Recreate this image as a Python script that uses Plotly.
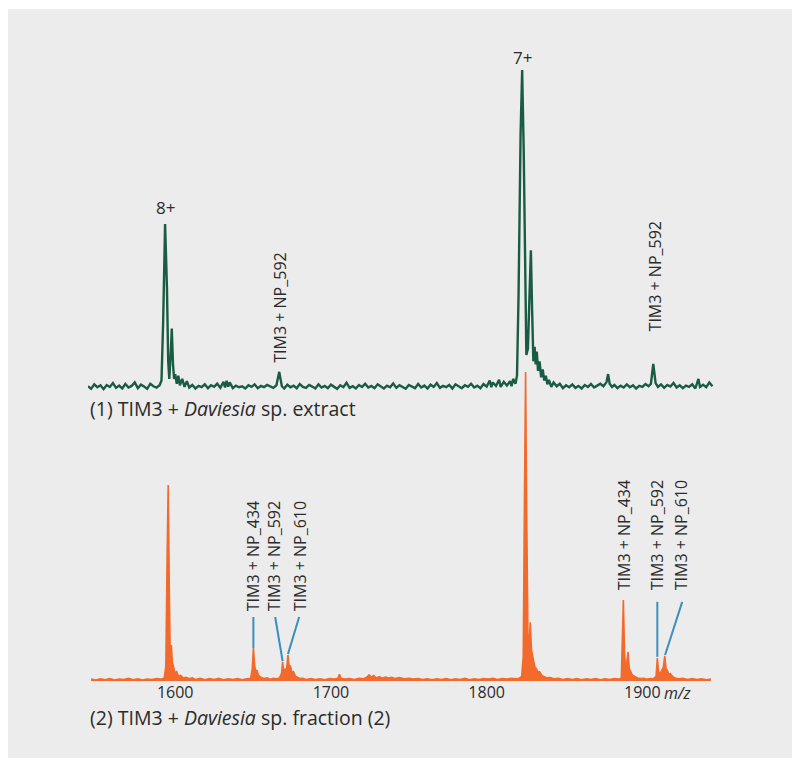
import plotly.graph_objects as go

# spectrum (1): TIM3 + Daviesia sp. extract  (relative intensity, 7+ peak = 100)
extract_mz = [
    1544, 1546, 1548, 1550, 1552, 1554, 1556, 1558, 1560, 1562, 1564, 1566,
    1568, 1570, 1572, 1574, 1576, 1578, 1580, 1582, 1584, 1586, 1588, 1590,
    1591.2, 1592.3, 1593.5, 1594.7, 1595.5, 1596.2, 1597.2, 1597.8, 1598.6,
    1599.3, 1600, 1601, 1602, 1603, 1604.5, 1606, 1607.5, 1609, 1611, 1613,
    1615, 1617, 1619, 1621, 1623, 1625, 1627, 1629, 1631, 1632, 1633, 1634,
    1635, 1637, 1639, 1641, 1643, 1645, 1647, 1649, 1651, 1653, 1655, 1657,
    1659, 1661, 1663, 1665, 1666.8, 1668.5, 1670, 1672, 1674, 1676, 1678,
    1680, 1682, 1684, 1686, 1688, 1690, 1692, 1694, 1696, 1698, 1700, 1702,
    1704, 1706, 1708, 1710, 1712, 1714, 1716, 1718, 1720, 1722, 1724, 1726,
    1728, 1730, 1732, 1734, 1736, 1738, 1740, 1742, 1744, 1746, 1748, 1750,
    1752, 1754, 1756, 1758, 1760, 1762, 1764, 1766, 1768, 1770, 1772, 1774,
    1776, 1778, 1780, 1782, 1784, 1786, 1788, 1790, 1792, 1794, 1796, 1798,
    1800, 1802, 1803, 1804, 1806, 1808, 1809, 1811, 1813, 1815, 1816, 1817,
    1818.5, 1819.5, 1820.5, 1821.8, 1822.8, 1823.8, 1824.8, 1825.5, 1826.5,
    1827.5, 1828.4, 1829.2, 1830, 1830.8, 1831.5, 1832.2, 1833, 1834, 1835,
    1836, 1837, 1838, 1839, 1840, 1841.5, 1843, 1845, 1847, 1849, 1851, 1853,
    1855, 1857, 1859, 1861, 1863, 1865, 1867, 1869, 1871, 1873, 1875, 1877,
    1878, 1879, 1880.5, 1882, 1884, 1886, 1888, 1890, 1892, 1894, 1896, 1898,
    1900, 1902, 1904, 1905.5, 1907, 1908.5, 1910, 1912, 1914, 1916, 1918,
    1920, 1922, 1924, 1926, 1928, 1930, 1932, 1934, 1936, 1937, 1939, 1941,
    1943, 1945,
]
extract_int = [
    1.2, 0.4, 1.8, 0.9, 1.5, 0.3, 1.6, 1.0, 2.2, 0.7, 1.4, 0.5,
    1.9, 0.8, 1.3, 2.4, 0.6, 1.7, 1.1, 0.4, 2.0, 1.2, 0.8, 1.5,
    3.0, 22, 51.9, 32, 9, 3.5, 12, 19.2, 8,
    3.5, 5, 2.0, 4.5, 1.5, 3.5, 1.0, 2.8, 0.8, 1.6, 0.5,
    1.3, 0.9, 1.8, 0.6, 1.5, 1.0, 2.0, 0.7, 2.6, 0.8, 2.9, 1.1,
    2.4, 0.6, 1.4, 0.9, 1.2, 0.5, 1.5, 1.0, 1.8, 0.6, 1.3, 0.9,
    1.6, 1.1, 0.7, 1.5, 5.7, 1.2, 0.5, 1.7, 0.9, 1.4, 0.6,
    1.9, 1.0, 0.7, 1.6, 1.1, 0.5, 1.8, 0.8, 1.3, 0.6, 1.7, 1.0,
    0.4, 1.5, 0.9, 2.3, 0.7, 1.2, 0.5, 1.6, 1.0, 2.0, 0.8, 1.3,
    0.6, 1.8, 1.1, 0.5, 1.4, 0.9, 2.1, 0.7, 1.5, 1.0, 0.4, 1.6,
    1.2, 0.6, 1.9, 0.8, 1.4, 0.5, 1.7, 1.0, 2.2, 0.7, 1.3, 0.9,
    1.6, 0.5, 1.8, 1.1, 0.6, 1.5, 1.0, 2.0, 0.8, 1.4, 0.6, 1.9,
    1.1, 3.0, 0.9, 2.4, 1.3, 3.2, 1.0, 2.6, 1.4, 2.8, 1.2, 3.5,
    2.0, 4.5, 30, 80, 100, 75, 35, 11, 13,
    30, 43.7, 25, 9, 13.5, 8, 12, 6, 9, 4,
    6.5, 3, 4.5, 1.8, 3.2, 1.0, 2.4, 1.2, 2.0, 0.6, 1.5, 0.9,
    1.8, 0.7, 1.3, 0.5, 1.6, 1.0, 1.9, 0.8, 1.4, 2.0, 1.2, 2.5,
    5.0, 2.0, 1.0, 1.6, 0.6, 1.4, 0.8, 1.8, 0.9, 1.5, 0.5, 1.3,
    1.0, 1.9, 1.2, 2.0, 8.2, 2.2, 1.0, 1.8, 0.7, 1.6, 1.1,
    2.2, 0.8, 1.5, 0.6, 1.4, 1.0, 1.8, 0.5, 3.5, 1.0, 1.7, 0.9,
    2.4, 1.2,
]

# spectrum (2): TIM3 + Daviesia sp. fraction (2)  (relative intensity, 7+ peak = 100)
fraction_mz = [
    1546, 1549, 1552, 1555, 1558, 1561, 1564, 1567, 1570, 1573, 1576, 1579,
    1582, 1585, 1588, 1591, 1593, 1594, 1594.8, 1595.5, 1596.2, 1596.8,
    1597.5, 1598.2, 1599, 1600, 1601, 1602, 1603.5, 1605, 1607, 1609, 1611,
    1613, 1616, 1619, 1622, 1625, 1628, 1631, 1634, 1637, 1640, 1643, 1646,
    1648.5, 1649.5, 1650.2, 1651, 1651.8, 1652.5, 1653.5, 1655, 1657, 1659,
    1661, 1663, 1665, 1667, 1668.3, 1669, 1669.8, 1670.6, 1671.4, 1672.4,
    1673.2, 1674, 1675, 1676, 1677.2, 1678.5, 1680, 1682, 1684, 1687, 1690,
    1693, 1696, 1699, 1702, 1704.5, 1705.5, 1706.5, 1709, 1712, 1715, 1718,
    1721, 1723, 1724.5, 1726, 1727.5, 1729, 1731, 1733, 1735, 1737, 1739,
    1741, 1744, 1747, 1750, 1753, 1756, 1759, 1762, 1765, 1768, 1771, 1774,
    1777, 1780, 1783, 1786, 1789, 1792, 1795, 1798, 1801, 1804, 1807, 1810,
    1813, 1816, 1819, 1821, 1822.5, 1823.5, 1824.3, 1825.0, 1825.7, 1826.5,
    1827.3, 1828, 1828.8, 1829.5, 1830.3, 1831, 1832, 1833, 1834, 1835.5,
    1837, 1839, 1841, 1843, 1846, 1849, 1852, 1855, 1858, 1861, 1864, 1867,
    1870, 1873, 1876, 1879, 1882, 1885, 1886.5, 1887.2, 1887.8, 1888.5,
    1889.2, 1890, 1890.8, 1891.6, 1892.5, 1893.5, 1895, 1897, 1899, 1901,
    1903, 1905, 1907, 1908.8, 1909.6, 1910.4, 1911.5, 1912.5, 1913.5, 1914.4,
    1915.2, 1916, 1917, 1918, 1919.5, 1921, 1923, 1926, 1929, 1932, 1935,
    1938, 1941, 1944,
]
fraction_int = [
    0.6, 0.3, 0.7, 0.4, 0.8, 0.3, 0.6, 0.5, 0.9, 0.4, 0.7, 0.3,
    0.6, 0.5, 0.8, 0.6, 1.0, 5, 40, 63.4, 30, 8,
    11.6, 6, 4.5, 2.5, 3.0, 1.6, 1.8, 1.0, 1.2, 0.7, 1.0,
    0.5, 0.9, 0.4, 0.8, 0.5, 0.9, 0.4, 0.7, 0.5, 0.8, 0.4, 0.7,
    0.9, 4, 10.7, 5, 3, 3.5, 1.8, 1.2, 0.8, 1.0,
    0.6, 0.9, 0.7, 1.0, 2.5, 6.1, 2.8, 4.0, 3.2, 8.4,
    4.5, 5.0, 2.6, 3.0, 1.5, 1.2, 0.8, 0.9, 0.5, 0.8, 0.5,
    0.7, 0.4, 0.8, 0.6, 0.9, 2.2, 0.9, 0.6, 0.8, 0.5, 0.9,
    0.7, 1.2, 2.0, 1.3, 1.8, 1.0, 1.4, 0.9, 1.3, 1.0, 1.2,
    0.8, 1.1, 0.7, 0.9, 0.6, 0.8, 0.5, 0.7, 0.4, 0.7, 0.5, 0.8,
    0.4, 0.7, 0.5, 0.9, 0.4, 0.7, 0.5, 0.8, 0.6, 0.9, 0.5, 0.8,
    0.6, 0.9, 0.7, 0.9, 1.5, 8, 60, 100, 55, 15,
    12, 19, 10, 8, 6.5, 4.5, 4, 2.8, 3.0, 1.8,
    1.4, 1.0, 1.1, 0.7, 0.9, 0.5, 0.8, 0.5, 0.8, 0.4, 0.7, 0.5,
    0.8, 0.4, 0.7, 0.5, 0.8, 0.6, 1.0, 12, 26.2, 10,
    4, 6, 9.4, 4, 3.0, 2.0, 1.5, 1.0, 0.8, 0.9,
    0.6, 0.8, 0.7, 1.5, 7.4, 3, 2.5, 3.5, 4.5, 8.1,
    4, 3.5, 2.0, 2.4, 1.4, 1.0, 0.7, 0.9, 0.5, 0.8, 0.5,
    0.7, 0.4, 0.6,
]

# peak labels
extract_labels = ["TIM3 + NP_592", "TIM3 + NP_592"]
extract_label_mz = [1666.8, 1908.3]
extract_label_y = [8.0, 17.8]
charge_labels = ["8+", "7+"]
charge_mz = [1593.5, 1822.8]
charge_y = [57.2, 104]

fraction_labels = ["TIM3 + NP_434", "TIM3 + NP_592", "TIM3 + NP_610",
                   "TIM3 + NP_434", "TIM3 + NP_592", "TIM3 + NP_610"]
fraction_label_mz = [1650.1, 1663.6, 1680.3, 1888.4, 1909.6, 1925.0]
fraction_label_y = [22.0, 22.0, 22.0, 28.8, 28.8, 28.8]
# leader lines: (label end mz, label end y) -> (peak mz, peak y)
leader_from_mz = [1650.2, 1664.2, 1679.6, 1909.6, 1925.6]
leader_from_y = [20.7, 20.7, 20.7, 25.6, 25.6]
leader_to_mz = [1650.2, 1669.0, 1672.4, 1909.6, 1914.6]
leader_to_y = [10.7, 6.4, 8.7, 7.8, 8.4]

GREEN = "#1a5c43"
ORANGE = "#f26a2c"
BLUE = "#3a8fbd"
TEXT = "#2b2b2b"
FONT = "Open Sans"

fig = go.Figure()
fig.add_trace(go.Scatter(x=fraction_mz, y=fraction_int, mode="lines",
                         line=dict(color=ORANGE, width=1.6),
                         fill="tozeroy", fillcolor=ORANGE, yaxis="y"))
fig.add_trace(go.Scatter(x=extract_mz, y=extract_int, mode="lines",
                         line=dict(color=GREEN, width=2.4), yaxis="y2"))

for x0, y0, x1, y1 in zip(leader_from_mz, leader_from_y, leader_to_mz,
                          leader_to_y):
    fig.add_shape(type="line", xref="x", yref="y", x0=x0, y0=y0, x1=x1,
                  y1=y1, line=dict(color=BLUE, width=2))

# gray panel with white frame
fig.add_shape(type="rect", xref="paper", yref="paper", x0=-0.1278,
              x1=1.1262, y0=-0.1201, y1=1.0484, layer="below",
              fillcolor="#ececec", line=dict(width=0))

for txt, xm, ym in zip(fraction_labels, fraction_label_mz, fraction_label_y):
    fig.add_annotation(x=xm, y=ym, xref="x", yref="y", text=txt,
                       textangle=-90, showarrow=False, xanchor="center",
                       yanchor="bottom", font=dict(size=16, color=TEXT,
                                                   family=FONT))
for txt, xm, ym in zip(extract_labels, extract_label_mz, extract_label_y):
    fig.add_annotation(x=xm, y=ym, xref="x", yref="y2", text=txt,
                       textangle=-90, showarrow=False, xanchor="center",
                       yanchor="bottom", font=dict(size=16, color=TEXT,
                                                   family=FONT))
for txt, xm, ym in zip(charge_labels, charge_mz, charge_y):
    fig.add_annotation(x=xm, y=ym, xref="x", yref="y2", text=txt,
                       showarrow=False, xanchor="center", yanchor="middle",
                       font=dict(size=17, color=TEXT, family=FONT))

fig.add_annotation(x=0, y=(681 - 408) / 641, xref="paper", yref="paper",
                   text="(1) TIM3 + <i>Daviesia</i> sp. extract",
                   showarrow=False, xanchor="left", yanchor="middle",
                   font=dict(size=19.5, color=TEXT, family=FONT))
fig.add_annotation(x=0, y=(681 - 717) / 641, xref="paper", yref="paper",
                   text="(2) TIM3 + <i>Daviesia</i> sp. fraction (2)",
                   showarrow=False, xanchor="left", yanchor="middle",
                   font=dict(size=19.5, color=TEXT, family=FONT))
fig.add_annotation(x=1923, y=(681 - 693) / 641, xref="x", yref="paper",
                   text="<i>m/z</i>", showarrow=False, xanchor="center",
                   yanchor="middle",
                   font=dict(size=16, color=TEXT, family=FONT))

# the page body adds an 8 px margin, so the figure is 8 px smaller
fig.update_layout(
    width=792, height=760,
    margin=dict(l=80, r=86, t=32, b=87),
    paper_bgcolor="white",
    plot_bgcolor="#ececec",
    showlegend=False,
    xaxis=dict(range=[1544, 1946], tickvals=[1600, 1700, 1800, 1900],
               showgrid=False, zeroline=False, showline=False, ticks="",
               tickfont=dict(size=16, color=TEXT, family=FONT)),
    yaxis=dict(range=[0, 207.4], visible=False),
    yaxis2=dict(range=[-90.9, 109.4], visible=False, overlaying="y"),
)

fig.write_html("out.html")
